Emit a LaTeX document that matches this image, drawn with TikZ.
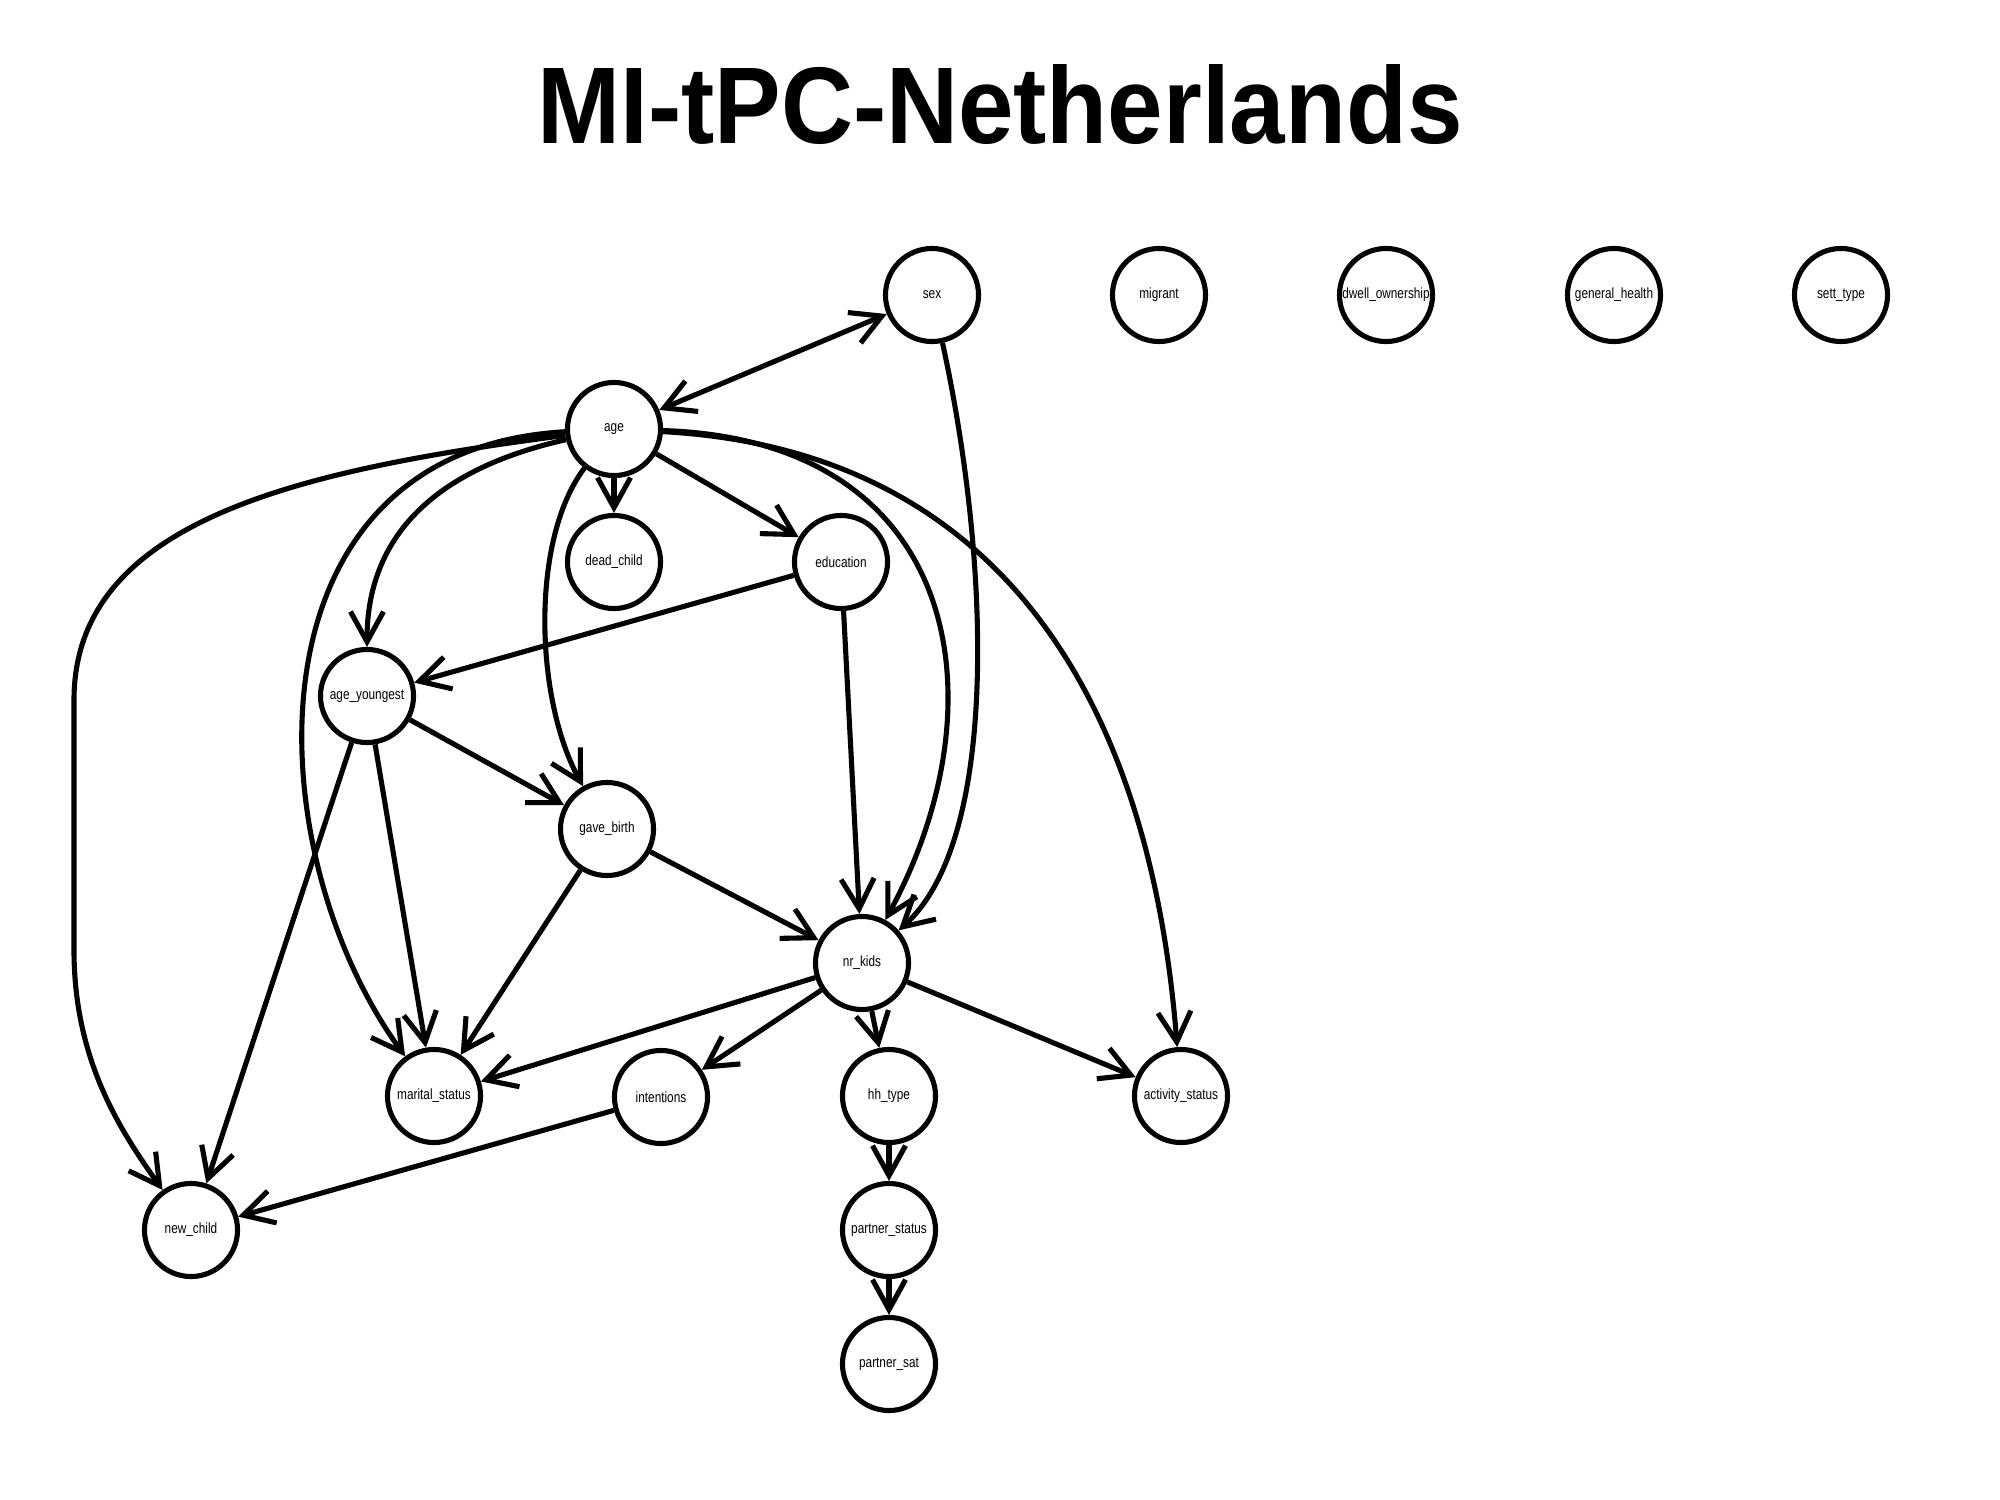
\documentclass[tikz,border=0pt]{standalone}
\usepackage{fontspec}
\setmainfont{Liberation Sans}
\newfontfamily\nodefont[FakeStretch=0.8]{Liberation Sans}
\newfontfamily\titlefont[FakeStretch=0.915]{Liberation Sans}
\usetikzlibrary{arrows.meta}

\begin{document}
\begin{tikzpicture}[x=0.01cm, y=-0.01cm, line width=1.45pt,
  >={Straight Barb[length=0.3cm, width=0.33cm]},
  var/.style={circle, draw, minimum size=0.93cm, inner sep=0pt, font=\nodefont\fontsize{4.2}{5}\selectfont}]
\useasboundingbox (0,0) rectangle (2000,1500);
\node[font=\titlefont\bfseries\fontsize{31}{31}\selectfont, anchor=base] (title) at (1000,144) {MI-tPC-Netherlands};
% top row
\node[var] (sex) at (932,295) {sex};
\node[var] (migrant) at (1159,295) {migrant};
\node[var] (dwell) at (1386,295) {dwell\_ownership};
\node[var] (health) at (1614,295) {general\_health};
\node[var] (sett) at (1841,295) {sett\_type};
% the graph
\node[var] (age) at (614,429) {age};
\node[var] (dead_child) at (614,562) {dead\_child};
\node[var] (education) at (841,562) {education};
\node[var] (age_youngest) at (367,696) {age\_youngest};
\node[var] (gave_birth) at (607,829) {gave\_birth};
\node[var] (nr_kids) at (862,963) {nr\_kids};
\node[var] (marital_status) at (434,1096) {marital\_status};
\node[var] (intentions) at (661,1097) {intentions};
\node[var] (hh_type) at (889,1096) {hh\_type};
\node[var] (activity_status) at (1181,1096) {activity\_status};
\node[var] (new_child) at (191,1230) {new\_child};
\node[var] (partner_status) at (889,1230) {partner\_status};
\node[var] (partner_sat) at (889,1364) {partner\_sat};
% edges
\draw[<->] (age) -- (sex);
\draw[->] (age) -- (dead_child);
\draw[->] (age) -- (education);
\draw[->] (age) .. controls (430,470) and (367,540) .. (age_youngest);
\draw[->] (age) .. controls (530,540) and (535,700) .. (gave_birth);
\draw[->] (age) .. controls (240,450) and (255,850) .. (marital_status);
\draw[->] (age) .. controls (300,470) and (74,520) .. (74,700) -- (74,950) .. controls (74,1060) and (120,1130) .. (new_child);
\draw[->] (age) .. controls (960,440) and (1005,700) .. (nr_kids);
\draw[->] (age) .. controls (1000,450) and (1150,700) .. (activity_status);
\draw[->] (sex) .. controls (990,560) and (1000,840) .. (nr_kids);
\draw[->] (education) -- (age_youngest);
\draw[->] (education) -- (nr_kids);
\draw[->] (age_youngest) -- (gave_birth);
\draw[->] (age_youngest) -- (marital_status);
\draw[->] (age_youngest) -- (new_child);
\draw[->] (gave_birth) -- (marital_status);
\draw[->] (gave_birth) -- (nr_kids);
\draw[->] (nr_kids) -- (marital_status);
\draw[->] (nr_kids) -- (intentions);
\draw[->] (nr_kids) -- (hh_type);
\draw[->] (nr_kids) -- (activity_status);
\draw[->] (intentions) -- (new_child);
\draw[->] (hh_type) -- (partner_status);
\draw[->] (partner_status) -- (partner_sat);
\end{tikzpicture}
\end{document}
